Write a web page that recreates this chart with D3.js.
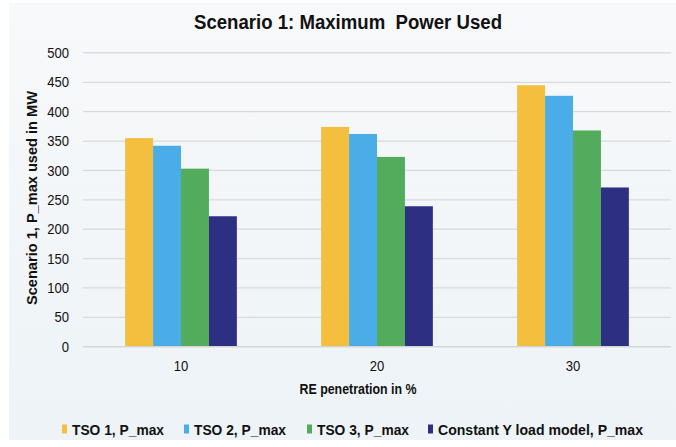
<!DOCTYPE html>
<html>
<head>
<meta charset="utf-8">
<script src="https://cdn.jsdelivr.net/npm/d3@7"></script>
<style>
  html, body { margin: 0; padding: 0; background: #ffffff; }
  svg { display: block; font-family: "Liberation Sans", Arial, sans-serif; }
</style>
</head>
<body>
<svg id="chart" width="676" height="447"></svg>
<script>
// Maximum power used per load model, by renewable penetration level
const categories = ["10", "20", "30"];
const seriesNames = ["TSO 1, P_max", "TSO 2, P_max", "TSO 3, P_max", "Constant Y load model, P_max"];
const tso1 = [355, 374, 445];
const tso2 = [342, 362, 427];
const tso3 = [303, 323, 368];
const constY = [222, 239, 271];
const yTicks = [0, 50, 100, 150, 200, 250, 300, 350, 400, 450, 500];
const colors = ["#F4BE3F", "#4BADE8", "#52AC5C", "#2D2F82"];

const series = [tso1, tso2, tso3, constY];

const svg = d3.select("#chart");
const W = 676;

// narrow the glyphs slightly, like a condensed sans
function condense(sel, factor) {
  sel.each(function () {
    const len = this.getComputedTextLength();
    d3.select(this).attr("textLength", len * factor).attr("lengthAdjust", "spacingAndGlyphs");
  });
}

// soft background panel
const defs = svg.append("defs");
const grad = defs.append("linearGradient").attr("id", "bg").attr("x1", 0).attr("y1", 0).attr("x2", 0).attr("y2", 1);
grad.append("stop").attr("offset", "0%").attr("stop-color", "#f8f9fa");
grad.append("stop").attr("offset", "100%").attr("stop-color", "#edf3f7");
svg.append("rect").attr("x", 9).attr("y", 3).attr("width", W - 9).attr("height", 437).attr("fill", "url(#bg)");

const x0 = d3.scaleBand().domain(categories).range([83, 671]).paddingInner(0.43).paddingOuter(0.215);
const x1 = d3.scaleBand().domain(d3.range(series.length)).range([0, x0.bandwidth()]);
const y = d3.scaleLinear().domain([0, 500]).range([346.7, 52.9]);

// gridlines
svg.append("g")
  .selectAll("line")
  .data(yTicks)
  .join("line")
  .attr("x1", 83).attr("x2", 671)
  .attr("y1", d => y(d)).attr("y2", d => y(d))
  .attr("stroke", "#d9d9d9").attr("stroke-width", 1.3);

// y axis labels
const yAxis = svg.append("g")
  .attr("transform", "translate(83,0)")
  .call(d3.axisLeft(y).tickValues(yTicks).tickSize(0).tickPadding(14));
yAxis.select(".domain").remove();
yAxis.selectAll("text").attr("font-size", 14.5).attr("fill", "#111").attr("font-family", "Liberation Sans, Arial, sans-serif")
  .call(condense, 0.9);

// bars
const groups = svg.append("g")
  .selectAll("g")
  .data(categories)
  .join("g")
  .attr("transform", d => `translate(${x0(d)},0)`);

groups.selectAll("rect")
  .data((d, i) => series.map((s, k) => ({ k, v: s[i] })))
  .join("rect")
  .attr("x", d => x1(d.k))
  .attr("width", x1.bandwidth())
  .attr("y", d => y(d.v))
  .attr("height", d => y(0) - y(d.v))
  .attr("fill", d => colors[d.k]);

// baseline
svg.append("line").attr("x1", 83).attr("x2", 671).attr("y1", y(0)).attr("y2", y(0))
  .attr("stroke", "#d4d4d4").attr("stroke-width", 1.3);

// x axis labels
const xAxis = svg.append("g")
  .attr("transform", `translate(0,${y(0)})`)
  .call(d3.axisBottom(x0).tickSize(0).tickPadding(14));
xAxis.select(".domain").remove();
xAxis.selectAll("text").attr("font-size", 14.5).attr("fill", "#111").attr("font-family", "Liberation Sans, Arial, sans-serif")
  .call(condense, 0.9);

// titles
svg.append("text").attr("x", 348).attr("y", 29).attr("text-anchor", "middle")
  .attr("font-size", 20).attr("font-weight", "bold").attr("fill", "#111")
  .attr("xml:space", "preserve")
  .attr("textLength", 308).attr("lengthAdjust", "spacingAndGlyphs")
  .text("Scenario 1: Maximum  Power Used");

svg.append("text").attr("x", 358).attr("y", 394).attr("text-anchor", "middle")
  .attr("font-size", 14.5).attr("font-weight", "bold").attr("fill", "#111")
  .attr("textLength", 117).attr("lengthAdjust", "spacingAndGlyphs")
  .text("RE penetration in %");

svg.append("text")
  .attr("transform", "translate(37,198) rotate(-90)")
  .attr("text-anchor", "middle")
  .attr("font-size", 14.5).attr("font-weight", "bold").attr("fill", "#111")
  .attr("textLength", 214).attr("lengthAdjust", "spacingAndGlyphs")
  .text("Scenario 1, P_max used in MW");

// legend
const legendX = [62, 184, 307, 428];
const legendLen = [92, 92, 92, 205];
const legend = svg.append("g").selectAll("g")
  .data(seriesNames)
  .join("g")
  .attr("transform", (d, i) => `translate(${legendX[i]},429)`);
legend.append("rect").attr("x", 0).attr("y", -4.5).attr("width", 5).attr("height", 9).attr("fill", (d, i) => colors[i]);
legend.append("text").attr("x", 10).attr("y", 5.5)
  .attr("font-size", 15).attr("font-weight", "bold").attr("fill", "#111")
  .attr("textLength", (d, i) => legendLen[i]).attr("lengthAdjust", "spacingAndGlyphs")
  .text(d => d);
</script>
</body>
</html>
